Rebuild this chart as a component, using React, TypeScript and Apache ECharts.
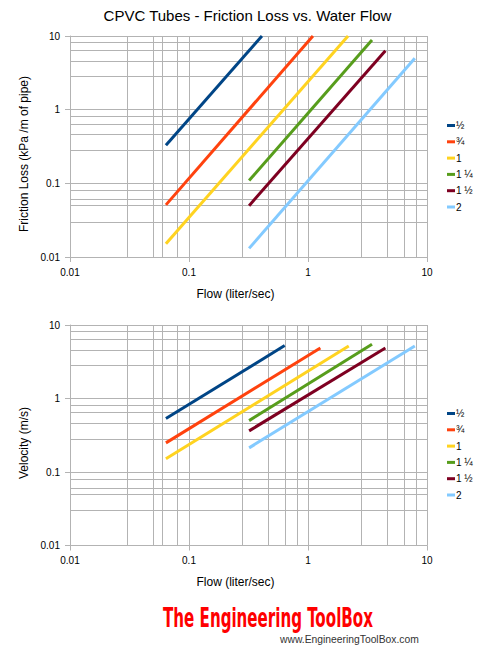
import React, { useEffect, useRef } from "react";
import * as echarts from "echarts";

const sizes = ["½", "¾", "1", "1 ¼", "1 ½", "2"];
const colors = ["#004586", "#ff420e", "#ffd320", "#579d1c", "#7e0021", "#83caff"];

// Flow (liter/sec) at the start of every line
const flowStart = [0.064, 0.064, 0.064, 0.32, 0.32, 0.32];
// Friction loss chart (kPa/m)
const frictionFlowEnd = [0.41, 1.1, 2.17, 3.45, 4.47, 7.9];
const frictionStart = [0.33, 0.051, 0.0151, 0.109, 0.0498, 0.0131];
const frictionEnd = [10, 10, 10, 8.8, 6.3, 5.0];
// Velocity chart (m/s)
const velocityFlowEnd = [0.637, 1.27, 2.2, 3.45, 4.47, 7.9];
const velocityStart = [0.535, 0.249, 0.151, 0.5, 0.363, 0.213];
const velocityEnd = [5.25, 4.87, 5.19, 5.47, 4.87, 5.19];

// minor grid lines of the log axes
const minorGrid = [0.028, 0.046, 0.064, 0.082, 0.28, 0.46, 0.64, 0.82, 2.8, 4.6, 6.4, 8.2];

const FONT = '"Liberation Sans", Arial, sans-serif';
const GRID = "#b3b3b3";

function measure(text: string, font: string): number {
  const c = document.createElement("canvas").getContext("2d");
  if (!c) return 0;
  c.font = font;
  return c.measureText(text).width;
}

function logAxis(gridIndex: number) {
  return {
    type: "log",
    logBase: 10,
    min: 0.01,
    max: 10,
    gridIndex,
    axisLine: { show: true, lineStyle: { color: GRID, width: 1 } },
    axisTick: { show: true, length: 5, lineStyle: { color: GRID } },
    axisLabel: {
      fontSize: 10,
      color: "#000",
      margin: 10,
      fontFamily: FONT,
      formatter: (v: number) => String(parseFloat(v.toPrecision(3))),
    },
    splitLine: { show: true, lineStyle: { color: GRID, width: 1 } },
    minorTick: { show: false },
  };
}

function seriesFor(idx: number, ends: number[], starts: number[], flowEnds: number[]) {
  return sizes.map((name, i) => ({
    type: "line",
    name,
    xAxisIndex: idx,
    yAxisIndex: idx,
    data: [
      [flowStart[i], starts[i]],
      [flowEnds[i], ends[i]],
    ],
    symbol: "none",
    showSymbol: false,
    lineStyle: { width: 3, color: colors[i] },
    itemStyle: { color: colors[i] },
    z: 10,
    silent: true,
  }));
}

function gridSeries(idx: number) {
  return {
    type: "line",
    xAxisIndex: idx,
    yAxisIndex: idx,
    data: [],
    silent: true,
    z: 1,
    markLine: {
      z: 1,
      silent: true,
      symbol: ["none", "none"],
      label: { show: false },
      lineStyle: { color: GRID, width: 1, type: "solid" },
      emphasis: { disabled: true },
      data: [
        ...minorGrid.map((v) => ({ xAxis: v })),
        ...minorGrid.map((v) => ({ yAxis: v })),
      ],
    },
  };
}

function legendAt(top: number) {
  return {
    data: sizes,
    left: 447,
    top,
    padding: 0,
    orient: "vertical",
    icon: "rect",
    itemWidth: 8,
    itemHeight: 3,
    itemGap: 4.3,
    selectedMode: false,
    textStyle: { fontSize: 10, lineHeight: 12, color: "#000", fontFamily: FONT, padding: [0, 0, 0, -4] },
  };
}

export default function App() {
  const ref = useRef<HTMLDivElement>(null);
  useEffect(() => {
    if (!ref.current) return;
    const chart = echarts.init(ref.current, null, { renderer: "svg" });

    const logoText = "The Engineering ToolBox";
    const logoFont = 'bold 26px "DejaVu Sans Condensed", "DejaVu Sans", sans-serif';
    const logoW = measure(logoText, logoFont) || 400;
    const urlText = "www.EngineeringToolBox.com";
    const urlFont = '10px "Liberation Sans", Arial, sans-serif';
    const urlW = measure(urlText, urlFont) || 136;

    chart.setOption({
      animation: false,
      grid: [
        { left: 70, top: 36, width: 357, height: 221 },
        { left: 70, top: 325, width: 357, height: 220.5 },
      ],
      xAxis: [logAxis(0), logAxis(1)],
      yAxis: [logAxis(0), logAxis(1)],
      legend: [legendAt(119.5), legendAt(407.5)],
      series: [
        gridSeries(0),
        gridSeries(1),
        ...seriesFor(0, frictionEnd, frictionStart, frictionFlowEnd),
        ...seriesFor(1, velocityEnd, velocityStart, velocityFlowEnd),
      ],
      graphic: [
        {
          type: "text",
          x: 247.5,
          y: 15,
          style: { text: "CPVC Tubes - Friction Loss vs. Water Flow", font: "15px " + FONT, fill: "#000", align: "center", verticalAlign: "middle" },
        },
        {
          type: "text",
          x: 24,
          y: 154,
          rotation: Math.PI / 2,
          style: { text: "Friction Loss (kPa /m of pipe)", font: "12px " + FONT, fill: "#000", align: "center", verticalAlign: "middle" },
        },
        {
          type: "text",
          x: 24,
          y: 443,
          rotation: Math.PI / 2,
          style: { text: "Velocity (m/s)", font: "12px " + FONT, fill: "#000", align: "center", verticalAlign: "middle" },
        },
        {
          type: "text",
          x: 235.5,
          y: 294,
          style: { text: "Flow (liter/sec)", font: "12px " + FONT, fill: "#000", align: "center", verticalAlign: "middle" },
        },
        {
          type: "text",
          x: 235.5,
          y: 582,
          style: { text: "Flow (liter/sec)", font: "12px " + FONT, fill: "#000", align: "center", verticalAlign: "middle" },
        },
        {
          type: "text",
          x: 163,
          y: 618,
          scaleX: 210 / logoW,
          style: { text: logoText, font: logoFont, fill: "#ff0000", align: "left", verticalAlign: "middle" },
        },
        {
          type: "text",
          x: 280,
          y: 640,
          scaleX: 139 / urlW,
          style: { text: urlText, font: urlFont, fill: "#333333", align: "left", verticalAlign: "middle" },
        },
      ],
    });
    return () => chart.dispose();
  }, []);
  return (
    <div
      ref={ref}
      style={{ position: "fixed", left: 0, top: 0, width: 500, height: 662, background: "#fff" }}
    />
  );
}
